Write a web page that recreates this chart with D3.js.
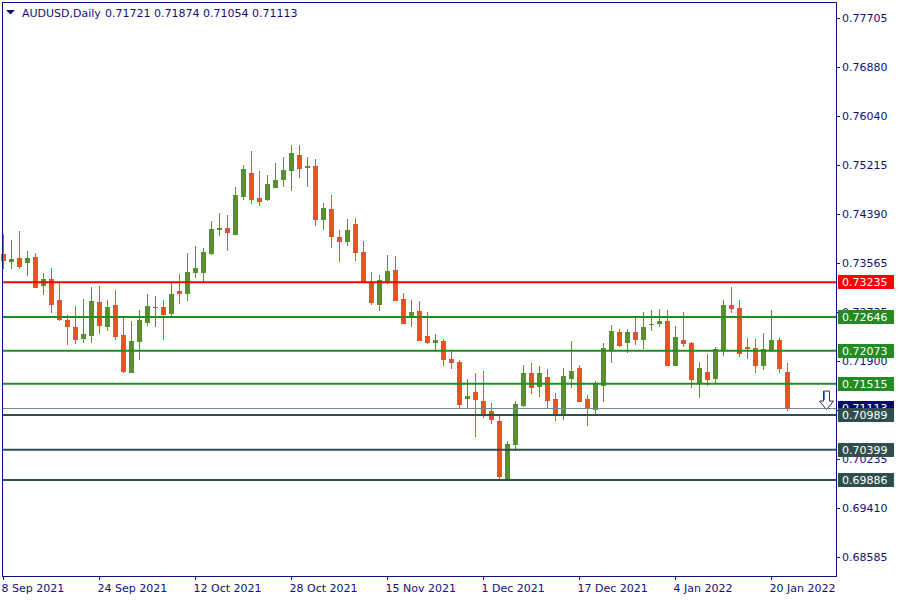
<!DOCTYPE html>
<html><head><meta charset="utf-8">
<script src="https://cdn.jsdelivr.net/npm/d3@7"></script>
<style>
body{margin:0;background:#fff;}
svg{display:block;font-family:"DejaVu Sans",sans-serif;}
</style>
</head><body>
<svg id="c" width="900" height="600"></svg>
<script>
// ---- data (AUDUSD daily, 8 Sep 2021 – 24 Jan 2022) ----
const openP=[0.7372,0.7358,0.7364,0.7355,0.7366,0.7318,0.7329,0.7293,0.7260,0.7248,
0.7228,0.7233,0.7290,0.7248,0.7285,0.7234,0.7170,0.7223,0.7255,0.7281,
0.7282,0.7270,0.7309,0.7304,0.7340,0.7340,0.7372,0.7411,0.7415,0.7404,
0.7468,0.7508,0.7466,0.7463,0.7483,0.7496,0.7512,0.7539,0.7516,0.7520,
0.7429,0.7447,0.7400,0.7392,0.7422,0.7375,0.7324,0.7284,0.7323,0.7344,
0.7295,0.7265,0.7275,0.7232,0.7221,0.7224,0.7194,0.7188,0.7126,0.7137,
0.7123,0.7106,0.7089,0.6990,0.7049,0.7115,0.7169,0.7145,0.7163,0.7126,
0.7099,0.7159,0.7178,0.7125,0.7108,0.7148,0.7208,0.7239,0.7221,0.7239,
0.7226,0.7250,0.7253,0.7258,0.7182,0.7226,0.7221,0.7152,0.7172,0.7159,
0.7208,0.7285,0.7280,0.7214,0.7212,0.7182,0.7208,0.7226,0.71721];
const highP=[0.7405,0.7395,0.7410,0.7376,0.7373,0.7339,0.7348,0.7323,0.7268,0.7283,
0.7295,0.7315,0.7317,0.7293,0.7310,0.7265,0.7258,0.7276,0.7304,0.7300,
0.7293,0.7324,0.7337,0.7373,0.7385,0.7381,0.7427,0.7441,0.7437,0.7485,
0.7522,0.7546,0.7512,0.7505,0.7525,0.7535,0.7556,0.7556,0.7535,0.7532,
0.7458,0.7471,0.7412,0.7430,0.7432,0.7393,0.7341,0.7336,0.7370,0.7368,
0.7305,0.7293,0.7292,0.7273,0.7236,0.7227,0.7209,0.7191,0.7159,0.7170,
0.7174,0.7119,0.7101,0.7055,0.7123,0.7184,0.7187,0.7182,0.7177,0.7136,
0.7178,0.7224,0.7183,0.7133,0.7156,0.7221,0.7251,0.7244,0.7244,0.7263,
0.7273,0.7276,0.7278,0.7276,0.7249,0.7273,0.7223,0.7189,0.7202,0.7214,
0.7293,0.7315,0.7293,0.7229,0.7227,0.7238,0.7276,0.7229,0.71874];
const lowP=[0.7345,0.7346,0.7345,0.7334,0.7313,0.7301,0.7272,0.7258,0.7218,0.7219,
0.7221,0.7221,0.7235,0.7241,0.7225,0.7169,0.7170,0.7191,0.7250,0.7248,
0.7225,0.7267,0.7287,0.7291,0.7331,0.7323,0.7370,0.7402,0.7377,0.7404,
0.7463,0.7456,0.7453,0.7461,0.7483,0.7485,0.7478,0.7499,0.7485,0.7419,
0.7411,0.7382,0.7358,0.7384,0.7360,0.7323,0.7285,0.7275,0.7321,0.7291,
0.7253,0.7248,0.7225,0.7219,0.7206,0.7182,0.7177,0.7111,0.7111,0.7062,
0.7094,0.7084,0.6991,0.6989,0.7038,0.7113,0.7135,0.7130,0.7109,0.7089,
0.7091,0.7145,0.7121,0.7081,0.7098,0.7120,0.7186,0.7214,0.7204,0.7218,
0.7211,0.7241,0.7247,0.7182,0.7182,0.7214,0.7145,0.7128,0.7148,0.7153,
0.7199,0.7272,0.7197,0.7194,0.7169,0.7175,0.7206,0.7170,0.71054];
const closeP=[0.7360,0.7363,0.7348,0.7364,0.7314,0.7329,0.7285,0.7260,0.7248,0.7226,
0.7236,0.7292,0.7250,0.7282,0.7231,0.7172,0.7224,0.7260,0.7283,0.7281,
0.7269,0.7304,0.7304,0.7341,0.7348,0.7375,0.7414,0.7415,0.7407,0.7471,
0.7515,0.7463,0.7460,0.7490,0.7496,0.7513,0.7542,0.7516,0.7520,0.7429,
0.7449,0.7399,0.7392,0.7412,0.7373,0.7323,0.7289,0.7327,0.7342,0.7292,
0.7253,0.7273,0.7225,0.7221,0.7226,0.7192,0.7187,0.7116,0.7131,0.7123,
0.7098,0.7091,0.6994,0.7049,0.7118,0.7170,0.7143,0.7169,0.7123,0.7101,
0.7165,0.7173,0.7121,0.7108,0.7152,0.7212,0.7241,0.7216,0.7239,0.7226,
0.7248,0.7252,0.7258,0.7182,0.7231,0.7219,0.7159,0.7178,0.7159,0.7210,
0.7285,0.7279,0.7203,0.7211,0.7182,0.7210,0.7226,0.7177,0.71113];

const xTickIndex=[0,12,24,36,48,60,72,84,96];
const xTickLabels=["8 Sep 2021","24 Sep 2021","12 Oct 2021","28 Oct 2021","15 Nov 2021","1 Dec 2021","17 Dec 2021","4 Jan 2022","20 Jan 2022"];
const yTickValues=[0.77705,0.76880,0.76040,0.75215,0.74390,0.73565,0.72735,0.71900,0.71075,0.70235,0.69410,0.68585];
const levelValues=[0.73235,0.72646,0.72073,0.71515,0.70989,0.70399,0.69886];
const levelKinds=["resistance","level","level","level","support","support","support"];
const symbolText="AUDUSD,Daily";

// ---- drawing ----
const svg=d3.select("#c");
const NAVY="#10107a";
const kindColor={resistance:"#ff0000",level:"#228b22",support:"#2f4f4f"};
const UP="#5a8e32", DOWN="#f24e26", FLAT="#6e6e6e";

const x=d3.scaleLinear().domain([0,98]).range([3,787]);
const y=d3.scaleLinear().domain([0.68585,0.77705]).range([557,18]);
const lastClose=closeP[closeP.length-1];

// candles
const idx=d3.range(openP.length);
const g=svg.append("g").attr("shape-rendering","crispEdges");
const col=i=>closeP[i]>openP[i]?UP:(closeP[i]<openP[i]?DOWN:FLAT);
g.selectAll("line.wick").data(idx).join("line")
 .attr("x1",i=>Math.round(x(i))+0.5).attr("x2",i=>Math.round(x(i))+0.5)
 .attr("y1",i=>y(highP[i])).attr("y2",i=>y(lowP[i]))
 .attr("stroke",col).attr("stroke-width",1);
g.selectAll("rect.body").data(idx).join("rect")
 .attr("x",i=>Math.round(x(i))-2).attr("width",5)
 .attr("y",i=>Math.round(y(Math.max(openP[i],closeP[i]))))
 .attr("height",i=>Math.max(1,Math.round(Math.abs(y(openP[i])-y(closeP[i])))))
 .attr("fill",col);

// current price line
svg.append("line").attr("x1",3).attr("x2",836).attr("y1",Math.round(y(lastClose))+0.5).attr("y2",Math.round(y(lastClose))+0.5)
 .attr("stroke","#778899").attr("stroke-width",1);

// horizontal levels
svg.selectAll("line.lvl").data(levelValues).join("line")
 .attr("x1",3).attr("x2",836).attr("y1",d=>y(d)).attr("y2",d=>y(d))
 .attr("stroke",(d,i)=>kindColor[levelKinds[i]]).attr("stroke-width",2);

// frame
svg.append("rect").attr("x",2.5).attr("y",2.5).attr("width",834).attr("height",574)
 .attr("fill","none").attr("stroke",NAVY).attr("stroke-width",1).attr("shape-rendering","crispEdges");

// right axis ticks + labels
const ya=svg.append("g");
ya.selectAll("line").data(yTickValues).join("line")
 .attr("x1",836).attr("x2",840).attr("y1",d=>Math.round(y(d))+0.5).attr("y2",d=>Math.round(y(d))+0.5)
 .attr("stroke",NAVY).attr("shape-rendering","crispEdges");
ya.selectAll("text").data(yTickValues).join("text")
 .attr("x",842).attr("y",d=>y(d)+4).attr("font-size",11).attr("fill",NAVY)
 .text(d=>d.toFixed(5));

// current price label
function priceLabel(v,bg){
  const cy=y(v);
  svg.append("rect").attr("x",838).attr("y",Math.round(cy-7)).attr("width",56).attr("height",14).attr("fill",bg);
  svg.append("text").attr("x",842).attr("y",cy+4).attr("font-size",11).attr("fill","#fff").text(v.toFixed(5));
}
priceLabel(lastClose,"#0a0a6a");
levelValues.forEach((v,i)=>priceLabel(v,kindColor[levelKinds[i]]));

// bottom axis
const xa=svg.append("g");
xa.selectAll("line").data(xTickIndex).join("line")
 .attr("x1",d=>Math.round(x(d))+0.5).attr("x2",d=>Math.round(x(d))+0.5).attr("y1",576).attr("y2",580)
 .attr("stroke",NAVY).attr("shape-rendering","crispEdges");
xa.selectAll("text").data(xTickIndex).join("text")
 .attr("x",d=>x(d)-1.5).attr("y",592).attr("font-size",11).attr("fill",NAVY)
 .text((d,i)=>xTickLabels[i]);

// header
svg.append("path").attr("d","M6,10 L15,10 L10.5,14.5 Z").attr("fill",NAVY);
svg.append("text").attr("x",22).attr("y",17).attr("font-size",11).attr("fill",NAVY).text(symbolText);
const last=openP.length-1;
svg.append("text").attr("x",105).attr("y",17).attr("font-size",11).attr("fill",NAVY)
 .text([openP[last],highP[last],lowP[last],closeP[last]].map(v=>v.toFixed(5)).join(" "));

// down arrow marker near last price
const ay=y(lastClose);
svg.append("path")
 .attr("d",`M823.5,${ay-16.5} L829.5,${ay-16.5} L829.5,${ay-6.5} L833.5,${ay-6.5} L826.5,${ay+2} L819.5,${ay-6.5} L823.5,${ay-6.5} Z`)
 .attr("fill","#fff").attr("stroke","#333").attr("stroke-width",1);
svg.append("path")
 .attr("d",`M824.5,${ay-15.5} L824.5,${ay-7.5}`).attr("stroke","#3a7bd5").attr("stroke-width",1);
</script>
</body></html>
